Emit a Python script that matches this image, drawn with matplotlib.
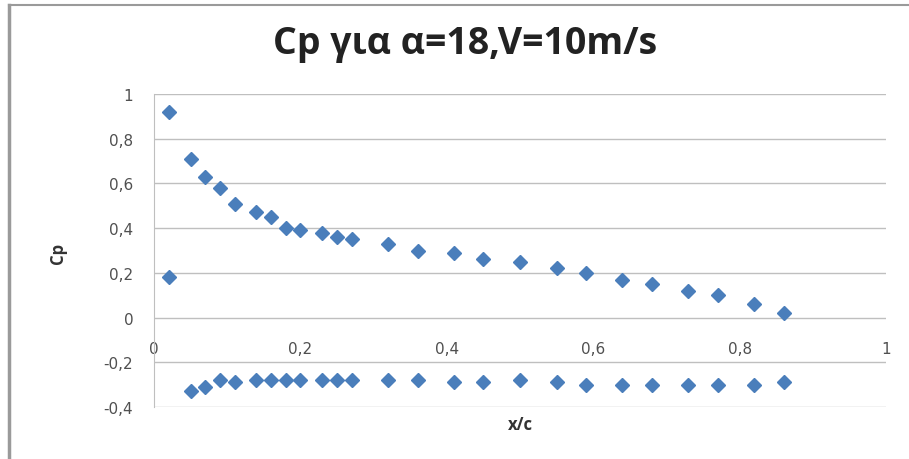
import matplotlib
matplotlib.use("Agg")
import matplotlib.pyplot as plt
from matplotlib.lines import Line2D
from matplotlib.ticker import FuncFormatter

# pressure taps, upper surface
x_upper = [0.02, 0.05, 0.07, 0.09, 0.11, 0.14, 0.16, 0.18, 0.20, 0.23, 0.25, 0.27,
           0.32, 0.36, 0.41, 0.45, 0.50, 0.55, 0.59, 0.64, 0.68, 0.73, 0.77, 0.82, 0.86]
cp_upper = [0.92, 0.71, 0.63, 0.58, 0.51, 0.47, 0.45, 0.40, 0.39, 0.38, 0.36, 0.35,
            0.33, 0.30, 0.29, 0.26, 0.25, 0.22, 0.20, 0.17, 0.15, 0.12, 0.10, 0.06, 0.02]

# pressure taps, lower surface
x_lower = [0.02, 0.05, 0.07, 0.09, 0.11, 0.14, 0.16, 0.18, 0.20, 0.23, 0.25, 0.27,
           0.32, 0.36, 0.41, 0.45, 0.50, 0.55, 0.59, 0.64, 0.68, 0.73, 0.77, 0.82, 0.86]
cp_lower = [0.18, -0.33, -0.31, -0.28, -0.29, -0.28, -0.28, -0.28, -0.28, -0.28, -0.28, -0.28,
            -0.28, -0.28, -0.29, -0.29, -0.28, -0.29, -0.30, -0.30, -0.30, -0.30, -0.30, -0.30, -0.29]

x_ticks = [0, 0.2, 0.4, 0.6, 0.8, 1]
y_ticks = [-0.4, -0.2, 0, 0.2, 0.4, 0.6, 0.8, 1]

blue = "#4a7ebb"
grid = "#bfbfbf"
txt = "#505050"

plt.rcParams["font.family"] = ["Open Sans", "DejaVu Sans"]

fig = plt.figure(figsize=(9.09, 4.6), dpi=100)
ax = fig.add_axes([154 / 909, 1 - 408 / 460, 732 / 909, 313 / 460])

ax.plot(x_upper, cp_upper, linestyle="none", marker="D", markersize=7.3, color=blue)
ax.plot(x_lower, cp_lower, linestyle="none", marker="D", markersize=7.3, color=blue)

ax.set_xlim(0, 1)
ax.set_ylim(-0.4, 1)
ax.set_xticks(x_ticks)
ax.set_yticks(y_ticks)

comma = FuncFormatter(lambda v, p: ("%g" % round(v, 2)).replace(".", ","))
ax.xaxis.set_major_formatter(comma)
ax.yaxis.set_major_formatter(comma)

ax.grid(axis="y", color=grid, linewidth=1)
ax.set_axisbelow(True)
for s in ["top", "right", "bottom"]:
    ax.spines[s].set_visible(False)
ax.spines["left"].set_color(grid)

ax.tick_params(axis="both", length=0, labelsize=11, labelcolor=txt,
               labelfontfamily="DejaVu Sans")
ax.tick_params(axis="y", pad=15)
# x labels sit just under the zero line
ax.xaxis.set_ticks_position("bottom")
ax.spines["bottom"].set_position(("data", 0))
ax.tick_params(axis="x", pad=17)

fig.text(58 / 909, 1 - 253 / 460, "Cp", rotation=90, ha="center", va="center",
         fontsize=12, fontweight="bold", color="#333333")
fig.text(520 / 909, 1 - 425 / 460, "x/c", ha="center", va="center",
         fontsize=12, fontweight="bold", color="#333333")
fig.text(465 / 909, 1 - 44 / 460, "Cp για α=18,V=10m/s", ha="center", va="center",
         fontsize=27, fontweight="bold", color="#222222")

# chart area border (left and top visible)
fig.add_artist(Line2D([9 / 909, 9 / 909], [0, 1 - 6 / 460], transform=fig.transFigure,
                      color="#9a9a9a", linewidth=2.5))
fig.add_artist(Line2D([9 / 909, 1], [1 - 6 / 460, 1 - 6 / 460], transform=fig.transFigure,
                      color="#9a9a9a", linewidth=1.5))

fig.savefig("out.png", dpi=100)
